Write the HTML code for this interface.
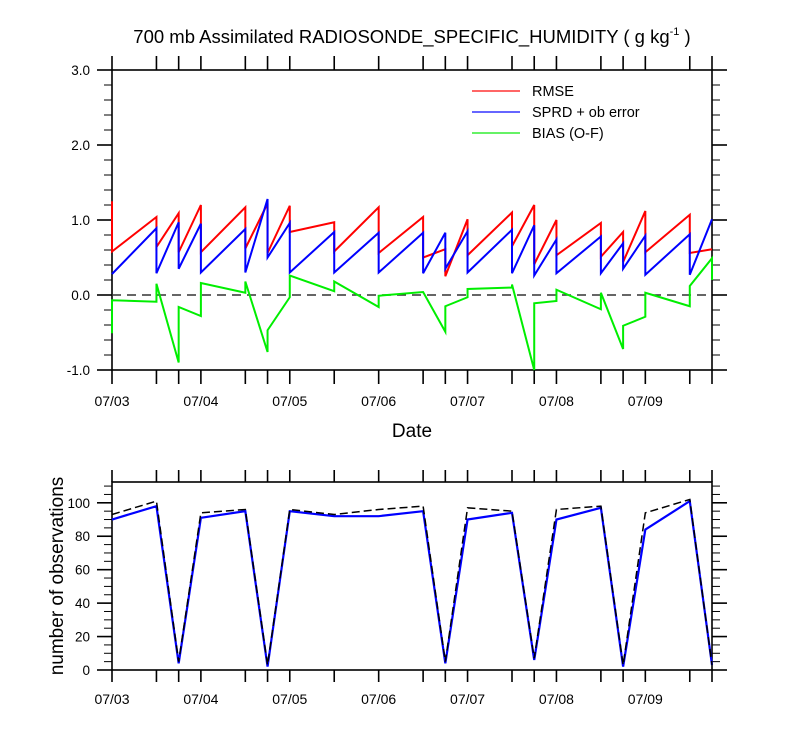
<!DOCTYPE html>
<html><head><meta charset="utf-8"><style>
body{margin:0;background:#fff;}
svg{display:block;font-family:"Liberation Sans",Arial,sans-serif;}
</style></head><body>
<svg id="c" width="800" height="750"></svg>
<script>
const hours=[0,12,18,24,36,42,48,60,72,84,90,96,108,114,120,132,138,144,156,162];
const dateLabels=["07/03","07/04","07/05","07/06","07/07","07/08","07/09"];
const rmsePrior=[1.25,1.04,1.09,1.2,1.17,1.22,1.19,0.97,1.17,1.04,0.61,1.01,1.1,1.2,1.0,0.96,0.84,1.12,1.07,0.61];
const rmsePost=[0.58,0.64,0.57,0.57,0.62,0.56,0.84,0.58,0.56,0.5,0.25,0.53,0.65,0.41,0.53,0.51,0.44,0.57,0.56,0.61];
const sprdPrior=[0.28,0.89,0.97,0.95,0.88,1.28,0.96,0.84,0.83,0.83,0.83,0.85,0.87,0.93,0.74,0.78,0.69,0.79,0.81,1.01];
const sprdPost=[0.28,0.29,0.35,0.3,0.3,0.5,0.3,0.3,0.3,0.29,0.35,0.3,0.29,0.26,0.29,0.29,0.35,0.27,0.27,1.01];
const biasPrior=[-0.51,-0.09,-0.9,-0.28,0.03,-0.76,-0.03,0.05,-0.16,0.04,-0.49,-0.03,0.1,-1.0,-0.08,-0.19,-0.72,-0.29,-0.15,0.49];
const biasPost=[-0.07,0.15,-0.16,0.16,0.18,-0.47,0.26,0.18,-0.01,0.04,-0.15,0.08,0.14,-0.11,0.07,0.03,-0.41,0.03,0.12,0.2];
const obsTotal=[93,101,5,94,96,3,96,93,96,98,5,97,95,7,96,98,3,94,102,3];
const obsUsed=[90,98,4,91,95,2,95,92,92,95,4,90,94,6,90,97,2,84,101,3];
const topYTicks=[-1,0,1,2,3];
const botYTicks=[0,20,40,60,80,100];

const svg=document.getElementById('c');
const NS='http://www.w3.org/2000/svg';
function el(tag,attrs,parent){const e=document.createElementNS(NS,tag);for(const k in attrs)e.setAttribute(k,attrs[k]);(parent||svg).appendChild(e);return e;}
const X=h=>112+h*600/162;
const Y1=v=>295-v*75;
const Y2=v=>670-v*1.672;

let t=el('text',{x:412,y:43,'text-anchor':'middle','font-size':18.5});


t.innerHTML='700 mb Assimilated RADIOSONDE_SPECIFIC_HUMIDITY ( g kg<tspan dy="-8" font-size="11">-1</tspan><tspan dy="8"> )</tspan>';

function frame(top,bot,yTicks,Yf,minorStep,minorFrom,minorTo,fmt,tlen,name){
  const g=el('g',{});
  
  
  el('rect',{x:112,y:top,width:600,height:bot-top,fill:'none',stroke:'#000','stroke-width':1.6},g);
  hours.forEach(h=>{
    el('line',{x1:X(h),x2:X(h),y1:top,y2:top-tlen,stroke:'#000','stroke-width':1.6},g);
    el('line',{x1:X(h),x2:X(h),y1:bot,y2:bot+tlen,stroke:'#000','stroke-width':1.6},g);
  });
  for(let v=minorFrom;v<=minorTo+1e-9;v+=minorStep){
    el('line',{x1:112,x2:104,y1:Yf(v),y2:Yf(v),stroke:'#000','stroke-width':1},g);
    el('line',{x1:712,x2:720,y1:Yf(v),y2:Yf(v),stroke:'#000','stroke-width':1},g);
  }
  yTicks.forEach(v=>{
    el('line',{x1:112,x2:97,y1:Yf(v),y2:Yf(v),stroke:'#000','stroke-width':1.6},g);
    el('line',{x1:712,x2:727,y1:Yf(v),y2:Yf(v),stroke:'#000','stroke-width':1.6},g);
    const tx=el('text',{x:90,y:Yf(v)+5,'text-anchor':'end','font-size':13.5},g);
    
    
    tx.textContent=fmt(v);
  });
  dateLabels.forEach((d,i)=>{
    const tx=el('text',{x:X(i*24),y:bot+tlen+22,'text-anchor':'middle','font-size':14},g);
    
    
    tx.textContent=d;
  });
}
frame(70,370,topYTicks,Y1,0.2,-1,3,v=>v.toFixed(1),14,'top');
frame(482,670,botYTicks,Y2,5,0,110,v=>String(v),12,'bottom');

const z=el('line',{x1:112,x2:712,y1:Y1(0),y2:Y1(0),stroke:'#333','stroke-width':1.6,'stroke-dasharray':'9,6'});



function saw(pr,po,color,name){
  const pts=[];
  hours.forEach((h,i)=>{pts.push(X(h)+','+Y1(pr[i]));pts.push(X(h)+','+Y1(po[i]));});
  const p=el('polyline',{points:pts.join(' '),fill:'none',stroke:color,'stroke-width':2});
  
  
}
saw(rmsePrior,rmsePost,'#ff0000','rmse-line');
saw(sprdPrior,sprdPost,'#0000ff','sprd-line');
saw(biasPrior,biasPost,'#00ee00','bias-line');

[['RMSE','#ff3333'],['SPRD + ob error','#3333ff'],['BIAS (O-F)','#33ee33']].forEach((l,i)=>{
  const g=el('g',{});
  
  
  el('line',{x1:472,x2:520,y1:91+i*21,y2:91+i*21,stroke:l[1],'stroke-width':1.5},g);
  const tx=el('text',{x:532,y:96+i*21,'font-size':14.5},g);
  tx.textContent=l[0];
});

let d=el('text',{x:412,y:437,'text-anchor':'middle','font-size':19});


d.textContent='Date';

const pu=el('polyline',{points:hours.map((h,i)=>X(h)+','+Y2(obsUsed[i])).join(' '),fill:'none',stroke:'#0000ff','stroke-width':2.2});


const pt=el('polyline',{points:hours.map((h,i)=>X(h)+','+Y2(obsTotal[i])).join(' '),fill:'none',stroke:'#000','stroke-width':1.5,'stroke-dasharray':'8,4'});



let yl=el('text',{x:0,y:0,'text-anchor':'middle','font-size':19,transform:'translate(63,576) rotate(-90)'});


yl.textContent='number of observations';
</script>
</body></html>
